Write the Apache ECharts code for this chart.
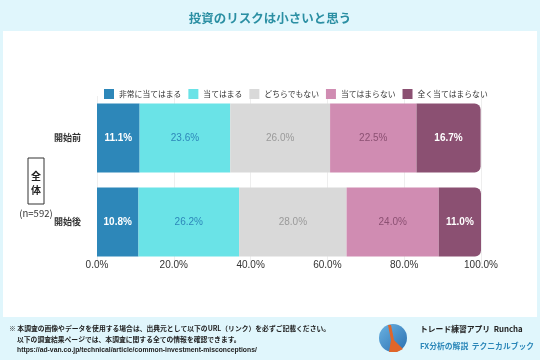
<!DOCTYPE html>
<html><head><meta charset="utf-8">
<script src="https://cdn.jsdelivr.net/npm/echarts@6/dist/echarts.min.js"></script>
<style>html,body{margin:0;padding:0;background:#e0f6fc;}#c{width:540px;height:360px;}</style>
</head><body><div id="c"></div>
<script>
const categories = ['開始前', '開始後'];
const seriesNames = ['非常に当てはまる', '当てはまる', 'どちらでもない', '当てはまらない', '全く当てはまらない'];
const s1 = [11.1, 10.8];
const s2 = [23.6, 26.2];
const s3 = [26.0, 28.0];
const s4 = [22.5, 24.0];
const s5 = [16.7, 11.0];
const xTicks = [0, 20, 40, 60, 80, 100];

const colors = ['#2d87b9', '#6ae3e7', '#d9d9d9', '#d08cb2', '#8b5072'];
const labelColors = ['#ffffff', '#2d87b9', '#9a9a9a', '#8b5072', '#ffffff'];
const allData = [s1, s2, s3, s4, s5];
const FONT = '"Noto Sans CJK JP", "Noto Sans", sans-serif';

const chart = echarts.init(document.getElementById('c'));
chart.setOption({
  backgroundColor: '#e0f6fc',
  textStyle: { fontFamily: FONT },
  animation: false,
  title: {
    text: '投資のリスクは小さいと思う', left: 'center', top: 7,
    textStyle: { color: '#2b8fa3', fontSize: 12.5, fontWeight: 'bold', fontFamily: FONT }
  },
  legend: {
    top: 84, left: 99, width: 430, itemWidth: 10, itemHeight: 10, itemGap: 7,
    icon: 'rect',
    textStyle: { fontSize: 7.8, color: '#333', fontFamily: FONT },
    data: seriesNames
  },
  grid: { left: 97, right: 59, top: 96, bottom: 96, containLabel: false },
  xAxis: {
    type: 'value', min: 0, max: 100, interval: 20,
    axisLine: { show: false }, axisTick: { show: false },
    splitLine: { show: true, lineStyle: { color: '#eeeeee', width: 1 } },
    axisLabel: {
      margin: -4, fontSize: 10, color: '#333', fontFamily: 'Liberation Sans, Arial, sans-serif',
      formatter: v => xTicks.includes(v) ? v.toFixed(1) + '%' : ''
    }
  },
  yAxis: {
    type: 'category', data: categories, inverse: true,
    axisLine: { show: false }, axisTick: { show: false },
    axisLabel: { margin: 16, fontSize: 9, color: '#333', fontWeight: 'bold', fontFamily: FONT }
  },
  graphic: [
    { type: 'rect', z: -10, shape: { x: 3, y: 31, width: 534, height: 286 }, style: { fill: '#ffffff' }, silent: true },
    { type: 'rect', shape: { x: 28, y: 158, width: 16, height: 46 }, style: { fill: '#fff', stroke: '#333', lineWidth: 1 } },
    { type: 'text', style: { x: 36, y: 176, text: '全', fill: '#222', font: 'bold 10px ' + FONT, align: 'center', verticalAlign: 'middle' } },
    { type: 'text', style: { x: 36, y: 190, text: '体', fill: '#222', font: 'bold 10px ' + FONT, align: 'center', verticalAlign: 'middle' } },
    { type: 'text', style: { x: 36, y: 213, text: '(n=592)', fill: '#333', font: '9.5px ' + FONT, align: 'center', verticalAlign: 'middle' } },
    { type: 'text', style: { x: 9, y: 328, text: '※ 本調査の画像やデータを使用する場合は、出典元として以下のURL（リンク）を必ずご記載ください。', fill: '#222', font: 'bold 6.8px ' + FONT, verticalAlign: 'middle' } },
    { type: 'text', style: { x: 17, y: 339, text: '以下の調査結果ページでは、本調査に関する全ての情報を確認できます。', fill: '#222', font: 'bold 6.8px ' + FONT, verticalAlign: 'middle' } },
    { type: 'text', style: { x: 17, y: 350, text: 'https://ad-van.co.jp/technical/article/common-investment-misconceptions/', fill: '#222', font: 'bold 6.8px Liberation Sans, Arial, sans-serif', verticalAlign: 'middle' } },
    { type: 'circle', shape: { cx: 393, cy: 338, r: 14 }, style: { fill: new echarts.graphic.LinearGradient(0, 0, 1, 1, [{ offset: 0, color: '#6ab2e2' }, { offset: 1, color: '#2a6fb0' }]) } },
    { type: 'polygon', shape: { points: [[388, 325], [391, 325], [394, 340], [403, 349], [397, 352], [389, 352], [391, 340]] }, style: { fill: '#e0662a' } },
    { type: 'text', style: { x: 420, y: 329, text: 'トレード練習アプリ  Runcha', fill: '#222', font: 'bold 7.8px ' + FONT, verticalAlign: 'middle' } },
    { type: 'text', style: { x: 420, y: 346, text: 'FX分析の解説  テクニカルブック', fill: '#2a86b8', font: 'bold 7.8px ' + FONT, verticalAlign: 'middle' } }
  ],
  series: seriesNames.map((name, i) => ({
    name, type: 'bar', stack: 'total', barWidth: 69,
    data: allData[i],
    itemStyle: { color: colors[i], borderRadius: i === 4 ? [0, 6, 6, 0] : 0 },
    label: {
      show: true, position: 'inside', fontSize: 10,
      color: labelColors[i], fontWeight: (i === 0 || i === 4) ? 'bold' : 'normal',
      fontFamily: 'Liberation Sans, Arial, sans-serif',
      formatter: p => p.value.toFixed(1) + '%'
    }
  }))
});
</script></body></html>
